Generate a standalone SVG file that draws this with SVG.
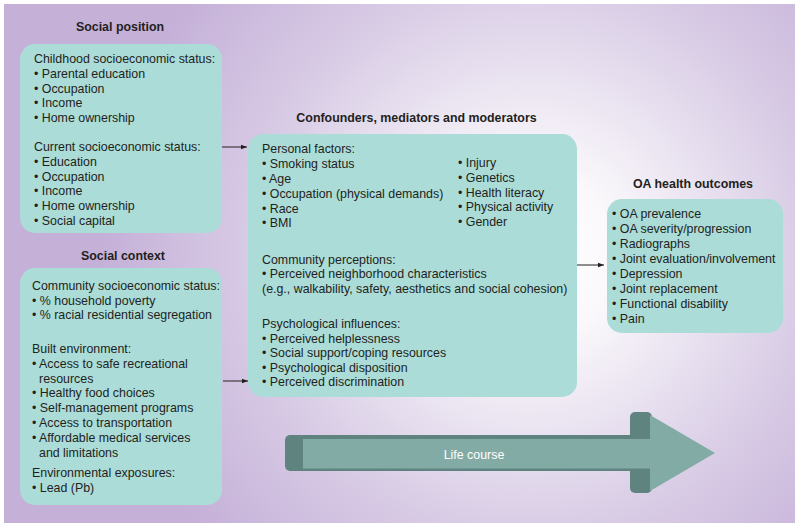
<svg xmlns="http://www.w3.org/2000/svg" width="800" height="528" viewBox="0 0 800 528">
<defs>
<radialGradient id="bg" gradientUnits="userSpaceOnUse" cx="530" cy="255" r="430">
<stop offset="0" stop-color="#ffffff"/>
<stop offset="0.2" stop-color="#faf8fb"/>
<stop offset="0.65" stop-color="#d8cbe5"/>
<stop offset="1" stop-color="#c5b0d8"/>
</radialGradient>
<marker id="ah" viewBox="0 0 6 6" refX="6" refY="3" markerWidth="6" markerHeight="6" markerUnits="userSpaceOnUse" orient="auto">
<path d="M0,0.8 L6,3 L0,5.2 Z" fill="#231f20"/>
</marker>
<style>
.box{fill:#abdcd8;}
text{font-family:"Liberation Sans",Arial,sans-serif;font-size:12.4px;fill:#231f20;}
.t{font-weight:bold;text-anchor:middle;}
.conn{stroke:#231f20;stroke-width:1;fill:none;marker-end:url(#ah);}
.dk{fill:#5f8480;}
.lt{fill:#83aba6;}
</style>
</defs>
<rect x="0" y="0" width="800" height="528" fill="#ffffff"/>
<rect x="4" y="4" width="791" height="519" fill="url(#bg)"/>

<g id="social-position">
<text class="t" x="120" y="30.5">Social position</text>
<rect class="box" x="20" y="44" width="202" height="189" rx="15"/>
<text x="34" y="63">Childhood socioeconomic status:</text>
<text x="34" y="77.5">• Parental education</text>
<text x="34" y="92.5">• Occupation</text>
<text x="34" y="107">• Income</text>
<text x="34" y="122">• Home ownership</text>
<text x="34" y="151">Current socioeconomic status:</text>
<text x="34" y="166">• Education</text>
<text x="34" y="180.5">• Occupation</text>
<text x="34" y="195">• Income</text>
<text x="34" y="210">• Home ownership</text>
<text x="34" y="225">• Social capital</text>
</g>

<g id="social-context">
<text class="t" x="123" y="259.5">Social context</text>
<rect class="box" x="20" y="268" width="202" height="237" rx="15"/>
<text x="32" y="290">Community socioeconomic status:</text>
<text x="32" y="304.5">• % household poverty</text>
<text x="32" y="319">• % racial residential segregation</text>
<text x="32" y="353">Built environment:</text>
<text x="32" y="368">• Access to safe recreational</text>
<text x="39" y="382.5">resources</text>
<text x="32" y="397">• Healthy food choices</text>
<text x="32" y="412">• Self-management programs</text>
<text x="32" y="427">• Access to transportation</text>
<text x="32" y="442">• Affordable medical services</text>
<text x="39" y="456.5">and limitations</text>
<text x="32" y="476.5">Environmental exposures:</text>
<text x="32" y="492">• Lead (Pb)</text>
</g>

<g id="confounders">
<text class="t" x="416.5" y="121.5">Confounders, mediators and moderators</text>
<rect class="box" x="248" y="134" width="329" height="263" rx="15"/>
<text x="262" y="152.5">Personal factors:</text>
<text x="262" y="167.5">• Smoking status</text>
<text x="262" y="182.5">• Age</text>
<text x="262" y="197.5">• Occupation (physical demands)</text>
<text x="262" y="212.5">• Race</text>
<text x="262" y="227">• BMI</text>
<text x="458" y="167">• Injury</text>
<text x="458" y="181.5">• Genetics</text>
<text x="458" y="196.5">• Health literacy</text>
<text x="458" y="211">• Physical activity</text>
<text x="458" y="226">• Gender</text>
<text x="262" y="263.5">Community perceptions:</text>
<text x="262" y="278">• Perceived neighborhood characteristics</text>
<text x="262" y="292.5">(e.g., walkability, safety, aesthetics and social cohesion)</text>
<text x="262" y="327.5">Psychological influences:</text>
<text x="262" y="342.5">• Perceived helplessness</text>
<text x="262" y="357">• Social support/coping resources</text>
<text x="262" y="371.5">• Psychological disposition</text>
<text x="262" y="386">• Perceived discrimination</text>
</g>

<g id="oa-outcomes">
<text class="t" x="693" y="188">OA health outcomes</text>
<rect class="box" x="607" y="199" width="176" height="134" rx="15"/>
<text x="612" y="218">• OA prevalence</text>
<text x="612" y="233">• OA severity/progression</text>
<text x="612" y="248">• Radiographs</text>
<text x="612" y="263">• Joint evaluation/involvement</text>
<text x="612" y="278">• Depression</text>
<text x="612" y="293">• Joint replacement</text>
<text x="612" y="308">• Functional disability</text>
<text x="612" y="322.5">• Pain</text>
</g>

<g id="life-course">
<rect class="dk" x="285" y="435" width="355" height="36" rx="5"/>
<rect class="dk" x="630" y="412" width="22" height="81" rx="5"/>
<rect class="lt" x="303" y="439" width="349" height="29.5"/>
<polygon class="lt" points="650,415 715,453 650,491"/>
<text x="474" y="459" text-anchor="middle" style="fill:#ffffff">Life course</text>
</g>

<g id="connectors">
<line class="conn" x1="222" y1="147" x2="247" y2="147"/>
<line class="conn" x1="223" y1="381" x2="248" y2="381"/>
<line class="conn" x1="577" y1="265" x2="604" y2="265"/>
</g>
</svg>
